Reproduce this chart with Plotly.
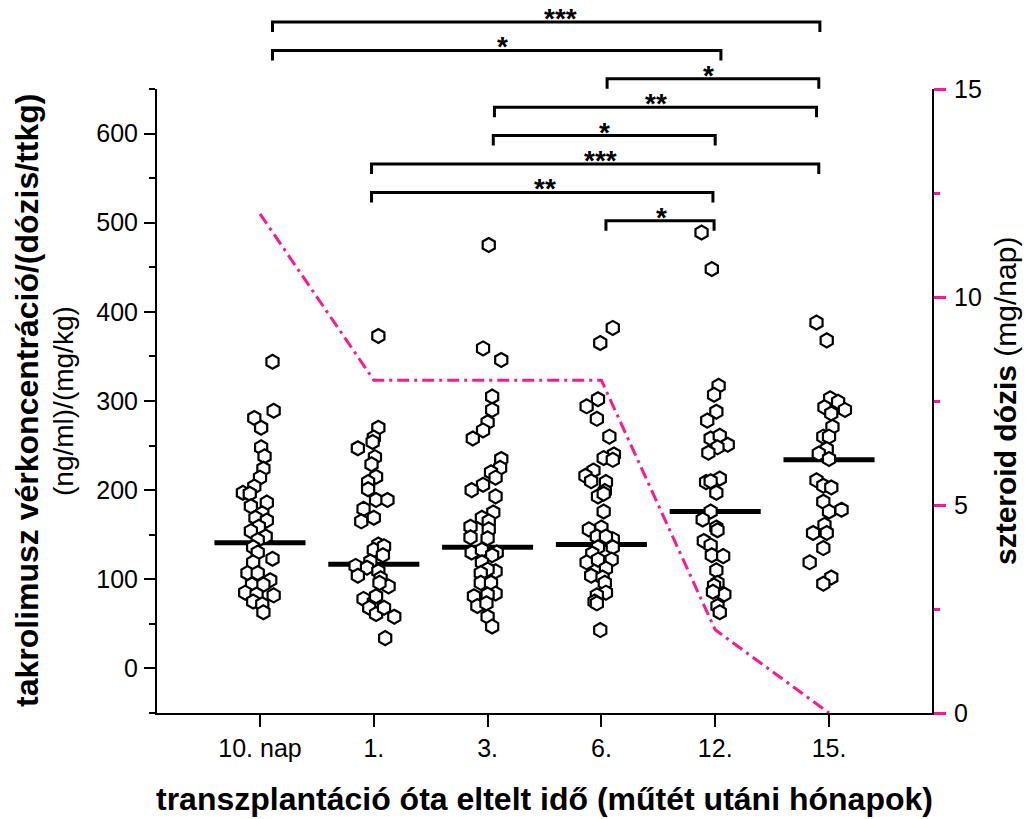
import plotly.graph_objects as go

# ---------------- data ----------------
categories = ["10. nap", "1.", "3.", "6.", "12.", "15."]

g0_vals = [344, 289, 281, 270, 248, 238, 224, 214, 204, 197, 196, 186, 182, 174, 169, 166, 159, 154,
           148, 144, 136, 130, 123, 119, 107, 107, 99, 94, 94, 85, 83, 82, 75, 72, 63]
g0_jit = [0.11, 0.12, -0.05, 0.01, 0.01, 0.04, 0.03, 0.0, -0.05, -0.15, -0.09, 0.06, -0.08, 0.02, -0.04,
          0.06, -0.01, -0.08, 0.05, -0.02, -0.06, -0.02, 0.11, -0.06, -0.11, -0.02, 0.09, -0.07, 0.03,
          -0.13, -0.03, 0.12, -0.06, 0.02, 0.03]

g1_vals = [373, 270, 259, 254, 247, 237, 229, 215, 209, 201, 189, 189, 179, 165, 169, 139, 133, 137,
           127, 120, 115, 113, 104, 109, 101, 92, 78, 74, 68, 61, 68, 58, 34, 96, 81]
g1_jit = [0.04, 0.04, 0.0, -0.01, -0.14, 0.01, -0.02, 0.02, -0.05, -0.05, 0.02, 0.12, -0.09, -0.11, 0.0,
          0.04, 0.0, 0.09, 0.08, -0.03, -0.16, -0.06, -0.14, 0.04, 0.06, 0.13, -0.09, 0.0, -0.04, 0.02,
          0.09, 0.18, 0.1, 0.05, 0.02]

g2_vals = [475, 359, 346, 305, 290, 276, 267, 258, 235, 225, 220, 214, 206, 200, 193, 175, 169, 159,
           165, 156, 147, 146, 130, 133, 130, 127, 119, 109, 111, 107, 96, 96, 84, 81, 83, 70, 73, 58, 47]
g2_jit = [0.01, -0.04, 0.12, 0.04, 0.04, 0.0, -0.04, -0.13, 0.12, 0.11, 0.03, 0.07, -0.04, -0.14, 0.07,
          0.05, -0.05, -0.15, 0.01, 0.01, -0.15, 0.0, -0.14, -0.05, 0.08, 0.04, -0.05, 0.07, 0.0, -0.06,
          -0.06, 0.03, 0.07, -0.12, 0.0, -0.09, -0.01, 0.0, 0.04]

g3_vals = [382, 365, 302, 294, 280, 260, 240, 236, 234, 222, 216, 210, 209, 199, 193, 196, 176, 158,
           156, 148, 145, 148, 136, 136, 129, 119, 122, 122, 112, 104, 102, 96, 85, 82, 75, 73, 43]
g3_jit = [0.10, -0.01, -0.03, -0.13, -0.04, 0.07, 0.11, 0.02, 0.10, -0.07, -0.14, -0.09, 0.04, 0.03,
          -0.03, 0.02, 0.02, 0.0, -0.11, -0.04, 0.10, 0.04, -0.03, 0.10, -0.08, -0.13, -0.03, 0.09,
          0.04, -0.09, 0.01, 0.03, 0.04, -0.04, -0.06, -0.04, -0.01]

g4_vals = [489, 448, 317, 307, 288, 278, 258, 261, 251, 248, 242, 213, 209, 210, 197, 176, 167, 158,
           155, 143, 138, 127, 126, 110, 96, 93, 83, 86, 70, 63]
g4_jit = [-0.12, -0.03, 0.03, -0.01, 0.01, -0.07, -0.04, 0.04, 0.11, 0.02, -0.06, 0.04, -0.08, -0.04,
          0.01, -0.04, -0.11, 0.01, 0.02, -0.10, -0.04, -0.03, 0.07, 0.01, 0.02, -0.01, 0.08, -0.02,
          0.02, 0.04]

g5_vals = [388, 368, 303, 299, 293, 286, 290, 271, 260, 260, 246, 241, 235, 211, 205, 203, 187, 176,
           178, 161, 152, 152, 135, 119, 102, 95]
g5_jit = [-0.11, -0.02, 0.01, 0.08, -0.04, 0.02, 0.14, 0.03, -0.05, 0.0, -0.02, -0.09, 0.0, -0.11,
          -0.05, 0.02, -0.05, 0.0, 0.11, -0.04, -0.14, -0.02, -0.05, -0.17, 0.02, -0.05]

medians = [141, 117, 136, 139, 176, 234]
steroid_dose = [12, 8, 8, 8, 2, 0]

bracket_x0 = [0.11, 0.11, 3.05, 2.06, 2.05, 0.98, 0.98, 3.04]
bracket_x1 = [4.92, 4.05, 4.91, 4.89, 4.00, 4.91, 3.98, 3.99]
bracket_star_x = [2.64, 2.13, 3.94, 3.48, 3.03, 2.99, 2.50, 3.53]
bracket_labels = ["***", "*", "*", "**", "*", "***", "**", "*"]

# ---------------- styling ----------------
W, H = 1027, 819
M_L, M_R, M_T, M_B = 157, 95, 89, 106
PLOT_H = H - M_T - M_B
PINK = "#FF1A8C"
FONT = "Liberation Sans, Arial, sans-serif"

groups = [(g0_vals, g0_jit), (g1_vals, g1_jit), (g2_vals, g2_jit),
          (g3_vals, g3_jit), (g4_vals, g4_jit), (g5_vals, g5_jit)]
xpos = list(range(len(categories)))

fig = go.Figure()

# steroid dose line (right axis)
fig.add_trace(go.Scatter(
    x=xpos, y=steroid_dose, yaxis="y2", mode="lines",
    line=dict(color=PINK, width=3, dash="12px,5px,3px,5px"),
    hoverinfo="skip", showlegend=False))

# median bars
mx, my = [], []
for i, m in zip(xpos, medians):
    mx += [i - 0.4, i + 0.4, None]
    my += [m, m, None]
fig.add_trace(go.Scatter(x=mx, y=my, mode="lines", line=dict(color="black", width=5),
                         showlegend=False, hoverinfo="skip"))

# individual points
for i, (vals, jit) in zip(xpos, groups):
    fig.add_trace(go.Scatter(
        x=[i + j for j in jit], y=vals, mode="markers",
        marker=dict(symbol="hexagon", size=14, color="white",
                    line=dict(color="black", width=2.2)),
        showlegend=False, cliponaxis=False))

# significance brackets
shapes = []
annotations = []
drop = 10 / PLOT_H
for k in range(len(bracket_labels)):
    py = 22 + k * 28.4                      # pixel level of bracket
    yp = (H - M_B - py) / PLOT_H            # paper coordinate
    x0, x1 = bracket_x0[k], bracket_x1[k]
    shapes.append(dict(type="path", xref="x", yref="paper",
                       path=f"M {x0},{yp - drop} L {x0},{yp} L {x1},{yp} L {x1},{yp - drop}",
                       line=dict(color="black", width=3)))
    annotations.append(dict(x=bracket_star_x[k], y=yp, xref="x", yref="paper",
                            text=f"<b>{bracket_labels[k]}</b>", showarrow=False,
                            xanchor="center", yanchor="bottom", yshift=-14,
                            font=dict(family=FONT, size=28, color="black")))

# axis titles
annotations += [
    dict(x=0, y=0.5, xref="paper", yref="paper", xshift=27 - M_L, textangle=-90,
         text="<b>takrolimusz vérkoncentráció/(dózis/ttkg)</b>", showarrow=False,
         xanchor="center", yanchor="middle", font=dict(family=FONT, size=32, color="black")),
    dict(x=0, y=0.5, xref="paper", yref="paper", xshift=63 - M_L, textangle=-90,
         text="(ng/ml)/(mg/kg)", showarrow=False,
         xanchor="center", yanchor="middle", font=dict(family=FONT, size=28, color="black")),
    dict(x=1, y=0.5, xref="paper", yref="paper", xshift=1005 - (W - M_R), textangle=-90,
         text="<b>szteroid dózis</b> (mg/nap)", showarrow=False,
         xanchor="center", yanchor="middle", font=dict(family=FONT, size=30, color="black")),
    dict(x=0.5, y=0, xref="paper", yref="paper", yshift=-(799 - (H - M_B)),
         text="<b>transzplantáció óta eltelt idő (műtét utáni hónapok)</b>", showarrow=False,
         xanchor="center", yanchor="middle", font=dict(family=FONT, size=32, color="black")),
]

fig.update_layout(
    width=W, height=H,
    margin=dict(l=M_L, r=M_R, t=M_T, b=M_B, pad=0),
    paper_bgcolor="white", plot_bgcolor="white",
    font=dict(family=FONT, size=25, color="black"),
    showlegend=False,
    shapes=shapes, annotations=annotations,
    xaxis=dict(range=[-0.905, 5.905], tickvals=xpos, ticktext=categories,
               showgrid=False, zeroline=False, showline=True, linecolor="black", linewidth=2,
               ticks="outside", ticklen=12, tickwidth=2, tickcolor="black",
               tickfont=dict(family=FONT, size=25, color="black")),
    yaxis=dict(range=[-50, 650], tickvals=[0, 100, 200, 300, 400, 500, 600],
               showgrid=False, zeroline=False, showline=True, linecolor="black", linewidth=2,
               ticks="outside", ticklen=11, tickwidth=2, tickcolor="black",
               ticklabelstandoff=1,
               minor=dict(dtick=50, tick0=0, ticks="outside", ticklen=6, tickwidth=2,
                          tickcolor="black", showgrid=False),
               tickfont=dict(family=FONT, size=25, color="black")),
    yaxis2=dict(range=[0, 15], tickvals=[0, 5, 10, 15], overlaying="y", side="right",
                anchor="x", showgrid=False, zeroline=False, showline=True,
                linecolor="black", linewidth=2,
                ticks="outside", ticklen=12, tickwidth=3, tickcolor=PINK,
                ticklabelstandoff=3,
                minor=dict(dtick=2.5, tick0=0, ticks="outside", ticklen=6, tickwidth=3,
                           tickcolor=PINK, showgrid=False),
                tickfont=dict(family=FONT, size=25, color="black")),
)

fig.write_html("out.html", config={"displayModeBar": False},
               post_script="document.body.style.margin='0';document.body.style.overflow='hidden';")
